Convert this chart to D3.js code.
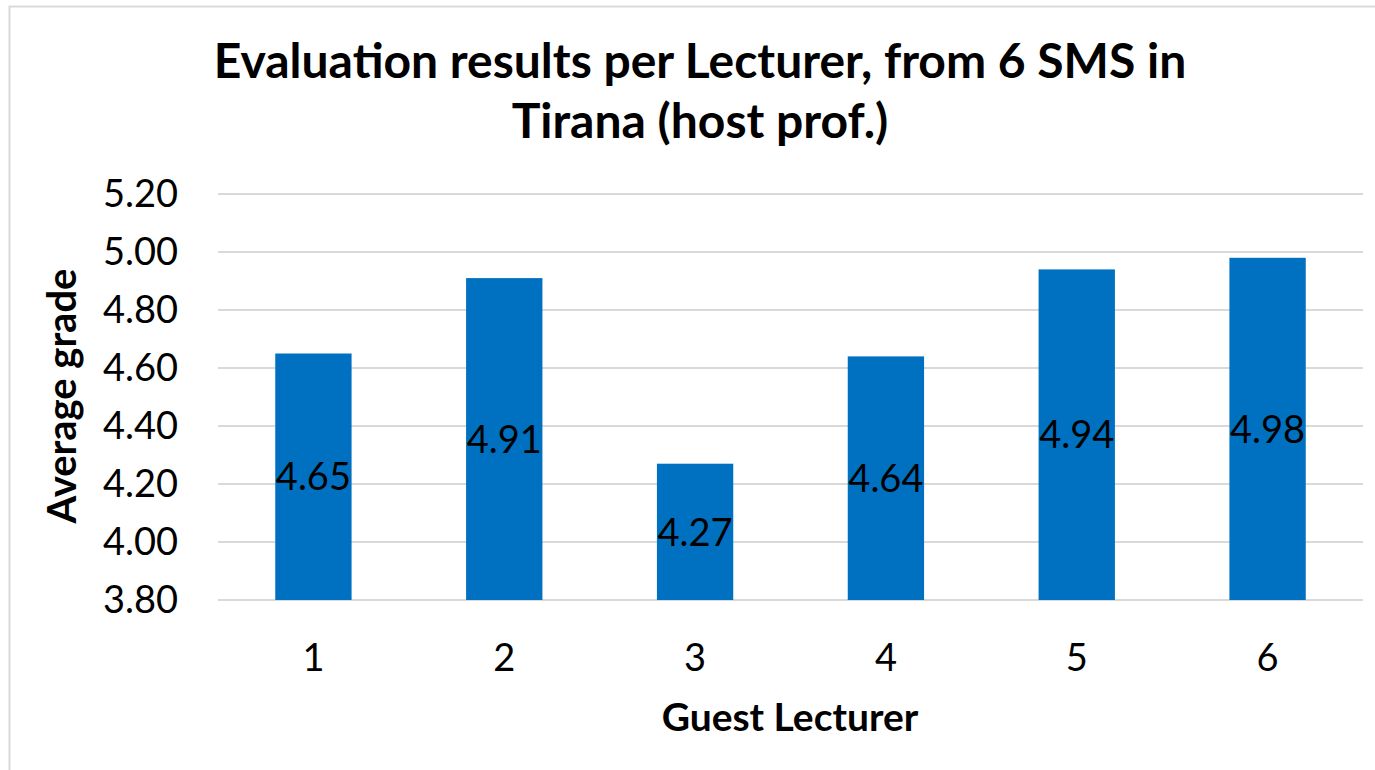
<!DOCTYPE html>
<html>
<head>
<meta charset="utf-8">
<script src="https://cdn.jsdelivr.net/npm/d3@7"></script>
<style>
  html, body { margin: 0; padding: 0; background: #fff; }
  svg { display: block; font-family: Lato, 'Open Sans', sans-serif; }
</style>
</head>
<body>
<div id="chart"></div>
<script>
// data
const lecturers = ['1', '2', '3', '4', '5', '6']
const grades = [4.65, 4.91, 4.27, 4.64, 4.94, 4.98]
const yTicks = [3.8, 4.0, 4.2, 4.4, 4.6, 4.8, 5.0, 5.2]
const titleLines = ['Evaluation results per Lecturer, from 6 SMS in', 'Tirana (host prof.)']

const W = 1375
const H = 770
const margin = { top: 194, right: 12, bottom: 170, left: 218 }
const width = W - margin.left - margin.right
const height = H - margin.top - margin.bottom

const svg = d3.select('#chart').append('svg')
  .attr('width', W)
  .attr('height', H)

// outer chart frame
svg.append('rect')
  .attr('x', 9.5)
  .attr('y', 6.5)
  .attr('width', W)
  .attr('height', H)
  .attr('fill', 'none')
  .attr('stroke', '#d9d9d9')
  .attr('stroke-width', 2)

svg.append('text')
  .attr('x', 700)
  .attr('y', 78)
  .attr('text-anchor', 'middle')
  .style('font-weight', 700)
  .style('font-size', '48px')
  .selectAll('tspan')
  .data(titleLines)
  .join('tspan')
  .attr('x', 700)
  .attr('dy', (d, i) => i ? 60 : 0)
  .text(d => d)

const g = svg.append('g')
  .attr('transform', 'translate(' + margin.left + ',' + margin.top + ')')

const x = d3.scaleBand()
  .domain(lecturers)
  .range([0, width])
  .paddingInner(0.6)
  .paddingOuter(0.3)

const y = d3.scaleLinear()
  .domain([3.8, 5.2])
  .range([height, 0])

// gridlines
g.append('g')
  .selectAll('line')
  .data(yTicks)
  .join('line')
  .attr('x1', 0)
  .attr('x2', width)
  .attr('y1', d => y(d))
  .attr('y2', d => y(d))
  .attr('stroke', '#d9d9d9')
  .attr('stroke-width', 2)

const yAxis = g.append('g')
  .call(d3.axisLeft(y).tickValues(yTicks).tickFormat(d3.format('.2f')).tickSize(0).tickPadding(40))
yAxis.select('.domain').remove()
yAxis.selectAll('text')
  .style('font-size', '38px')
  .style('font-family', 'Lato, sans-serif')
  .attr('fill', '#000')

const xAxis = g.append('g')
  .attr('transform', 'translate(0,' + height + ')')
  .call(d3.axisBottom(x).tickSize(0).tickPadding(44))
xAxis.select('.domain').remove()
xAxis.selectAll('text')
  .style('font-size', '38px')
  .style('font-family', 'Lato, sans-serif')
  .attr('fill', '#000')

g.selectAll('rect.bar')
  .data(grades)
  .join('rect')
  .attr('class', 'bar')
  .attr('x', (d, i) => x(lecturers[i]))
  .attr('width', x.bandwidth())
  .attr('y', d => y(d))
  .attr('height', d => height - y(d))
  .attr('fill', '#0070c0')

g.selectAll('text.val')
  .data(grades)
  .join('text')
  .attr('class', 'val')
  .attr('x', (d, i) => x(lecturers[i]) + x.bandwidth() / 2)
  .attr('y', d => (y(d) + height) / 2)
  .attr('dy', '0.36em')
  .attr('text-anchor', 'middle')
  .style('font-size', '38px')
  .text(d => d3.format('.2f')(d))

svg.append('text')
  .attr('x', 790)
  .attr('y', 731)
  .attr('text-anchor', 'middle')
  .style('font-weight', 700)
  .style('font-size', '39px')
  .text('Guest Lecturer')

svg.append('text')
  .attr('transform', 'translate(76,396) rotate(-90)')
  .attr('text-anchor', 'middle')
  .style('font-weight', 700)
  .style('font-size', '40px')
  .text('Average grade')
</script>
</body>
</html>
